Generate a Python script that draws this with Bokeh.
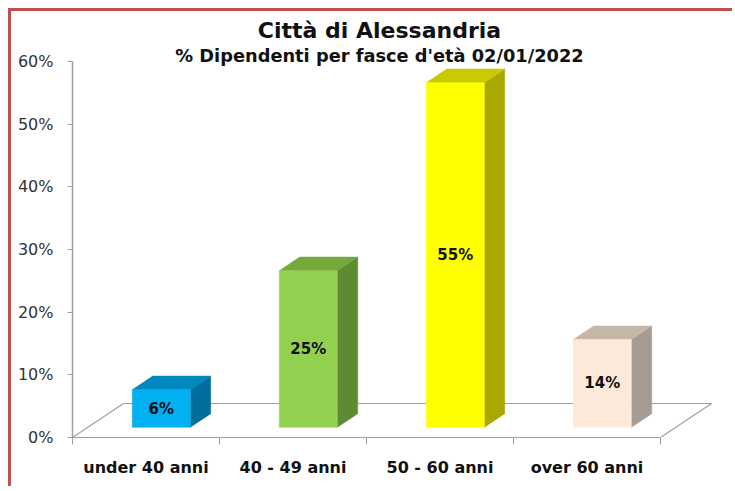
from bokeh.plotting import figure
from bokeh.models import (Range1d, FixedTicker, PrintfTickFormatter, Label,
                          LinearAxis, ColumnDataSource)
from bokeh.core.properties import value
from bokeh.embed import file_html
from bokeh.resources import INLINE

# ---------------- data ----------------
categories = ["under 40 anni", "40 - 49 anni", "50 - 60 anni", "over 60 anni"]
values = [6, 25, 55, 14]
value_labels = ["6%", "25%", "55%", "14%"]
front_colors = ["#00B0F0", "#92D050", "#FFFF00", "#FDE9D9"]
top_colors = ["#0088BF", "#76A83C", "#CACA00", "#C4B6A8"]
side_colors = ["#006E9A", "#5E8A32", "#A8A800", "#A69B92"]
y_ticks = [0, 10, 20, 30, 40, 50, 60]
title_text = "Città di Alessandria"
subtitle_text = "% Dipendenti per fasce d'età 02/01/2022"

# ---------------- geometry (pixels -> data) ----------------
OFF = 11                # page offset of canvas (8px margin + 3px border)
PX_X = 147.0            # px per category slot
PX_Y = 376.0 / 60.0     # px per percent
W, H = 724, 478
LEFT = 72 - OFF
BOTTOM = H - (437 - OFF)
frame_w = W - LEFT
frame_h = H - BOTTOM

DEPTH_X = 51.0 / PX_X   # floor depth (x)
DEPTH_Y = 34.0 / PX_Y   # floor depth (y)
BAR_W = 58.0 / PX_X
F0, F1 = 0.3, 0.7       # bar front / back depth fraction
n = len(categories)

p = figure(width=W, height=H, output_backend="svg", toolbar_location=None,
           title=None,
           x_range=Range1d(0, frame_w / PX_X), y_range=Range1d(0, frame_h / PX_Y),
           min_border_left=LEFT, min_border_right=0, min_border_top=0,
           min_border_bottom=BOTTOM, x_axis_type=None, y_axis_type=None)
p.background_fill_color = "white"
p.border_fill_color = "white"
p.outline_line_color = None
p.styles = {"margin-left": "8px", "margin-top": "8px",
            "border-left": "3px solid #C0504D", "border-top": "3px solid #C0504D"}

AX_COL = "#A0A0A0"
yax = LinearAxis(ticker=FixedTicker(ticks=y_ticks),
                 formatter=PrintfTickFormatter(format="%d%%"),
                 bounds=(0, 60))
yax.axis_line_color = AX_COL
yax.axis_line_width = 1.5
yax.major_tick_line_color = AX_COL
yax.major_tick_out = 5
yax.major_tick_in = 0
yax.minor_tick_line_color = None
yax.major_label_standoff = 14
yax.major_label_text_font = "DejaVu Sans"
yax.major_label_text_font_size = "16px"
yax.major_label_text_color = "#333333"
p.add_layout(yax, "left")

centers = [i + 0.5 for i in range(n)]
xax = LinearAxis(ticker=FixedTicker(ticks=centers, minor_ticks=list(range(n + 1))),
                 major_label_overrides={c: lab for c, lab in zip(centers, categories)},
                 bounds=(0, n))
xax.axis_line_color = AX_COL
xax.axis_line_width = 1.2
xax.major_tick_line_color = None
xax.minor_tick_line_color = AX_COL
xax.minor_tick_out = 7
xax.minor_tick_in = 0
xax.major_label_standoff = 13
xax.major_label_text_font = "DejaVu Sans"
xax.major_label_text_font_style = "bold"
xax.major_label_text_font_size = "16px"
xax.major_label_text_color = "#111111"
p.add_layout(xax, "below")

# floor outline (left diagonal, back edge, right diagonal)
p.segment(x0=[0, DEPTH_X, n], y0=[0, DEPTH_Y, 0],
          x1=[DEPTH_X, n + DEPTH_X, n + DEPTH_X], y1=[DEPTH_Y, DEPTH_Y, DEPTH_Y],
          line_color=AX_COL, line_width=1.2)

# 3D bars
fx, fy = F0 * DEPTH_X, F0 * DEPTH_Y
bx, by = (F1 - F0) * DEPTH_X, (F1 - F0) * DEPTH_Y
lefts = [c - BAR_W / 2 + fx for c in centers]
rights = [l + BAR_W for l in lefts]
bottoms = [fy] * n
tops = [fy + v for v in values]

side_xs = [[r, r + bx, r + bx, r] for r in rights]
side_ys = [[b, b + by, t + by, t] for b, t in zip(bottoms, tops)]
top_xs = [[l, r, r + bx, l + bx] for l, r in zip(lefts, rights)]
top_ys = [[t, t, t + by, t + by] for t in tops]

p.patches(xs=side_xs, ys=side_ys, fill_color=side_colors, line_color=side_colors, line_width=0.5)
p.patches(xs=top_xs, ys=top_ys, fill_color=top_colors, line_color=top_colors, line_width=0.5)
p.quad(left=lefts, right=rights, bottom=bottoms, top=tops,
       fill_color=front_colors, line_color=front_colors, line_width=0.5)

lab_src = ColumnDataSource(dict(x=[(l + r) / 2 for l, r in zip(lefts, rights)],
                                y=[b + v / 2 for b, v in zip(bottoms, values)],
                                text=value_labels))
p.text(x="x", y="y", text="text", source=lab_src, text_font=value("DejaVu Sans"),
       text_font_style="bold", text_font_size="15px", text_align="center",
       text_baseline="middle", text_color="#111111")

# titles
tx = (379 - 72) / PX_X
p.add_layout(Label(x=tx, y=(437 - 30) / PX_Y, text=title_text, text_align="center",
                   text_baseline="alphabetic", text_font="DejaVu Sans",
                   text_font_style="bold", text_font_size="22px", text_color="#111111"))
p.add_layout(Label(x=tx, y=(437 - 55) / PX_Y, text=subtitle_text, text_align="center",
                   text_baseline="alphabetic", text_font="DejaVu Sans",
                   text_font_style="bold", text_font_size="17.8px", text_color="#111111"))

open("out.html", "w").write(file_html(p, INLINE))
